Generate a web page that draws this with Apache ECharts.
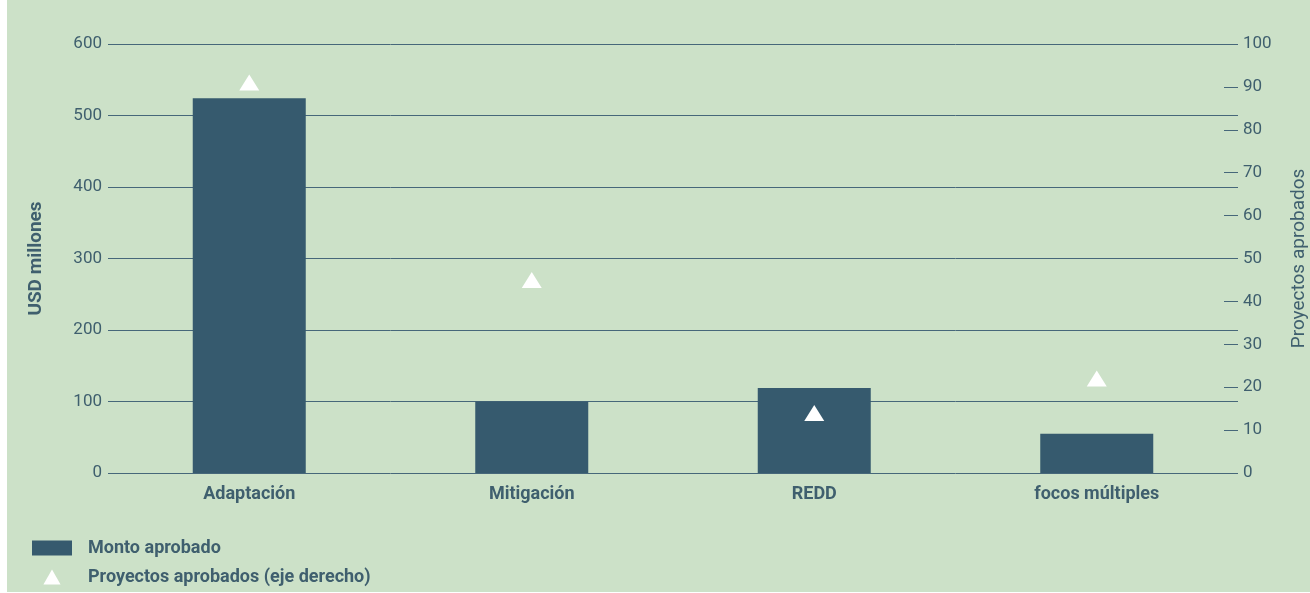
<!DOCTYPE html>
<html>
<head>
<meta charset="utf-8">
<script src="https://cdn.jsdelivr.net/npm/echarts@6/dist/echarts.min.js"></script>
<style>
  html, body { margin: 0; padding: 0; background: #ffffff; }
  #chart { position: absolute; left: 7px; top: 0; width: 1303px; height: 592px; background: #cce1c8; }
</style>
</head>
<body>
<div id="chart"></div>
<script>
// categories and values
var categories = ["Adaptación", "Mitigación", "REDD", "focos múltiples"];
var montoAprobado = [524, 100, 119, 55];
var proyectosAprobados = [91, 45, 14, 22];

var textColor = "#3f5f6e";
var lineColor = "#46677a";
var fontFamily = "'Roboto', sans-serif";

var chart = echarts.init(document.getElementById("chart"));
chart.setOption({
  animation: false,
  textStyle: { fontFamily: fontFamily, color: textColor },
  grid: { left: 101, right: 72, top: 44, bottom: 119, containLabel: false, outerBoundsMode: "none" },
  legend: {
    orient: "vertical",
    left: 25,
    top: 539,
    padding: 0,
    itemWidth: 40,
    itemHeight: 15,
    itemGap: 11,
    symbolKeepAspect: true,
    selectedMode: false,
    textStyle: { color: textColor, fontSize: 18, fontWeight: "bold", padding: [0, 0, 0, 11], fontFamily: fontFamily },
    data: [
      { name: "Monto aprobado", icon: "rect" },
      { name: "Proyectos aprobados (eje derecho)", icon: "path://M8,0 L16,14 L0,14 Z" }
    ]
  },
  xAxis: {
    type: "category",
    data: categories,
    axisLine: { show: false },
    axisTick: { show: false },
    axisLabel: { color: textColor, fontSize: 18, fontWeight: "bold", margin: 12, fontFamily: fontFamily }
  },
  yAxis: [
    {
      type: "value",
      min: 0,
      max: 600,
      interval: 100,
      name: "USD millones",
      nameLocation: "middle",
      nameGap: 62,
      nameTextStyle: { color: textColor, fontSize: 19, fontWeight: "bold", fontFamily: fontFamily },
      axisLine: { show: false },
      axisTick: { show: false },
      axisLabel: { color: textColor, fontSize: 17, margin: 6, fontFamily: fontFamily },
      splitLine: { show: true, lineStyle: { color: lineColor, width: 1 } }
    },
    {
      type: "value",
      min: 0,
      max: 100,
      interval: 10,
      name: "Proyectos aprobados",
      nameLocation: "middle",
      nameGap: 52,
      nameTextStyle: { color: textColor, fontSize: 19, fontFamily: fontFamily },
      axisLine: { show: false },
      axisTick: { show: true, inside: true, length: 14, lineStyle: { color: lineColor } },
      axisLabel: { color: textColor, fontSize: 17, margin: 5, fontFamily: fontFamily },
      splitLine: { show: false }
    }
  ],
  series: [
    {
      name: "Monto aprobado",
      type: "bar",
      yAxisIndex: 0,
      barWidth: "40%",
      itemStyle: { color: "#365a6e" },
      data: montoAprobado
    },
    {
      name: "Proyectos aprobados (eje derecho)",
      type: "scatter",
      yAxisIndex: 1,
      symbol: "triangle",
      symbolSize: [20, 16],
      itemStyle: { color: "#ffffff", opacity: 1 },
      z: 5,
      data: proyectosAprobados
    }
  ]
});
</script>
</body>
</html>
